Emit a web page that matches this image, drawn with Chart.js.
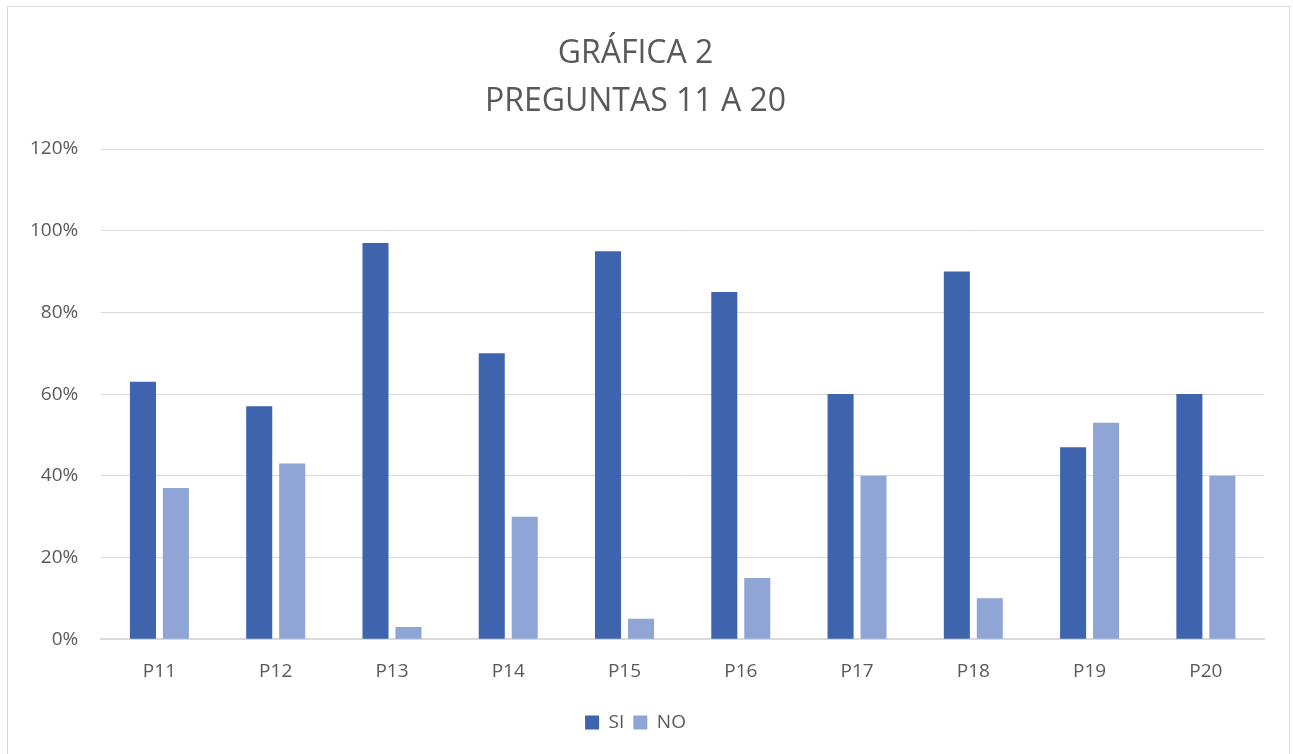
<!DOCTYPE html>
<html>
<head>
<meta charset="utf-8">
<script src="https://cdn.jsdelivr.net/npm/chart.js@4/dist/chart.umd.min.js"></script>
<style>
  html, body { margin: 0; padding: 0; background: #fff; }
  #wrap { position: relative; width: 1293px; height: 754px; }
  #frame { position: absolute; left: 7px; top: 6px; width: 1283px; height: 760px; border: 1px solid #d9d9d9; box-sizing: border-box; }
  canvas { position: absolute; left: 0; top: 0; }
</style>
</head>
<body>
<div id="wrap">
  <div id="frame"></div>
  <canvas id="myChart" width="1293" height="754"></canvas>
</div>
<script>
var preguntas = ['P11', 'P12', 'P13', 'P14', 'P15', 'P16', 'P17', 'P18', 'P19', 'P20'];
var si_vals = [63, 57, 97, 70, 95, 85, 60, 90, 47, 60];
var no_vals = [37, 43, 3, 30, 5, 15, 40, 10, 53, 40];
var titulo = ['GRÁFICA 2', 'PREGUNTAS 11 A 20'];

var fuente = "'Open Sans', 'Noto Sans', sans-serif";
var gris = '#595959';

var ctx = document.getElementById('myChart').getContext('2d');
var chart = new Chart(ctx, {
    type: 'bar',
    data: {
      labels: preguntas,
      datasets: [{
          label: 'SI',
          backgroundColor: '#3d64ad',
          data: si_vals
      }, {
          label: 'NO',
          backgroundColor: '#8fa5d6',
          data: no_vals
      }]
    },
    options: {
      responsive: false,
      animation: false,
      categoryPercentage: 0.567,
      barPercentage: 0.79,
      layout: { padding: { left: 7, right: 29, top: 30, bottom: 12 } },
      plugins: {
        title: {
          display: true,
          text: titulo,
          color: gris,
          font: { family: fuente, size: 32, weight: 'normal', lineHeight: 1.5 },
          padding: { top: 0, bottom: 23 }
        },
        legend: {
          position: 'bottom',
          labels: {
            color: gris,
            font: { family: fuente, size: 19 },
            boxWidth: 14,
            boxHeight: 14,
            padding: 9
          }
        },
        tooltip: { enabled: false }
      },
      scales: {
        x: {
          grid: { display: false, drawTicks: false },
          border: { color: '#d9d9d9', width: 2 },
          ticks: { color: gris, font: { family: fuente, size: 19 }, padding: 21 }
        },
        y: {
          min: 0,
          max: 120,
          grid: { color: '#d9d9d9', lineWidth: 1, drawTicks: false },
          border: { display: false },
          ticks: {
            stepSize: 20,
            color: gris,
            font: { family: fuente, size: 19 },
            padding: 23,
            callback: function(v) { return v + '%'; }
          }
        }
      }
    }
});
</script>
</body>
</html>
